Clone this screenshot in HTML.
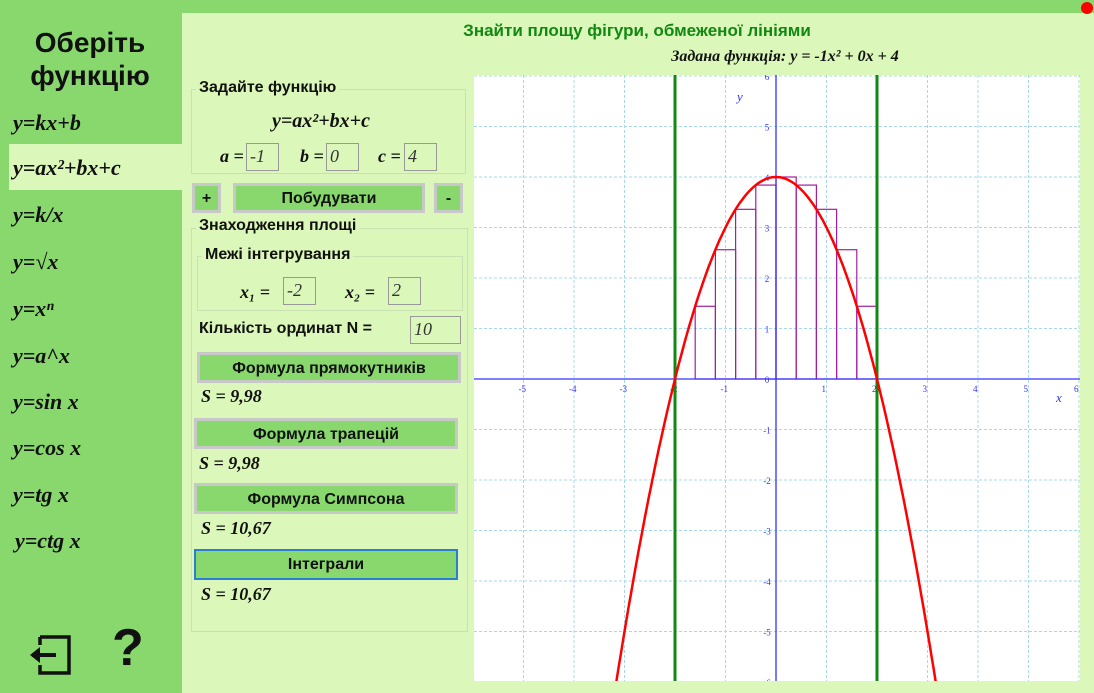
<!DOCTYPE html>
<html><head><meta charset="utf-8">
<style>
html{overflow:hidden;height:693px}
body{margin:0;width:1094px;height:693px;background:#88d86e;position:relative;overflow:hidden;font-family:"Liberation Sans",sans-serif}
.abs{position:absolute}
.fn{position:absolute;left:13px;font:italic bold 22px "Liberation Serif",serif;color:#111;line-height:26px}
.panel{position:absolute;left:182px;top:13px;width:912px;height:680px;background:#dbf7b9}
.box{position:absolute;border:1px solid #c9e0b0}
.lbl{position:absolute;font:bold 16px "Liberation Sans",sans-serif;color:#111;background:#dbf7b9;padding:0 3px}
.btn{position:absolute;background:#88d86e;border:3px solid #c8c8c8;box-sizing:border-box;font:bold 16px "Liberation Sans",sans-serif;text-align:center;color:#111;overflow:hidden}
.inp{position:absolute;background:#dbf7b9;border:1px solid #999;box-sizing:border-box;height:28px;font:italic 18px "Liberation Serif",serif;padding:2px 3px;color:#333;overflow:hidden}
.ser{position:absolute;font:italic bold 18px "Liberation Serif",serif;color:#111}
</style></head><body>
<div class="abs" style="left:0;top:26px;width:180px;text-align:center;font:bold 28px 'Liberation Sans',sans-serif;line-height:33px;color:#111">Оберіть<br>функцію</div>
<div class="abs" style="left:9px;top:144px;width:173px;height:46px;background:#dbf7b9"></div>
<div class="fn" style="top:110px">y=kx+b</div>
<div class="fn" style="top:155px">y=ax²+bx+c</div>
<div class="fn" style="top:202px">y=k/x</div>
<div class="fn" style="top:249px">y=√x</div>
<div class="fn" style="top:296px">y=xⁿ</div>
<div class="fn" style="top:343px">y=a^x</div>
<div class="fn" style="top:389px">y=sin x</div>
<div class="fn" style="top:435px">y=cos x</div>
<div class="fn" style="top:482px">y=tg x</div>
<div class="fn" style="top:528px;left:15px">y=ctg x</div>
<svg class="abs" style="left:28px;top:635px" width="44" height="40"><path d="M12 2H41V38H12V30M12 2V10" fill="none" stroke="#111" stroke-width="3.5"/><path d="M4 20H28" stroke="#111" stroke-width="4"/><path d="M2 20L12 12V28Z" fill="#111"/></svg>
<div class="abs" style="left:112px;top:620px;font:bold 52px 'Liberation Sans',sans-serif;line-height:56px;color:#111">?</div>

<div class="panel"></div>
<div class="abs" style="left:1081px;top:2px;width:12px;height:12px;border-radius:50%;background:#f00"></div>
<div class="abs" style="left:420px;top:21px;width:434px;text-align:center;font:bold 17px 'Liberation Sans',sans-serif;color:#118811">Знайти площу фігури, обмеженої лініями</div>
<div class="abs" style="left:600px;top:48px;width:370px;text-align:center;font:italic bold 16px 'Liberation Serif',serif;color:#111">Задана функція: y = -1x² + 0x + 4</div>

<div class="box" style="left:191px;top:89px;width:273px;height:83px"></div>
<div class="lbl" style="left:196px;top:79px">Задайте функцію</div>
<div class="ser" style="left:272px;top:110px;font-size:20px">y=ax²+bx+c</div>
<div class="ser" style="left:220px;top:146px">a =</div>
<div class="inp" style="left:246px;top:143px;width:33px">-1</div>
<div class="ser" style="left:300px;top:146px">b =</div>
<div class="inp" style="left:326px;top:143px;width:33px">0</div>
<div class="ser" style="left:378px;top:146px">c =</div>
<div class="inp" style="left:404px;top:143px;width:33px">4</div>

<div class="btn" style="left:192px;top:183px;width:29px;height:30px;line-height:26px">+</div>
<div class="btn" style="left:233px;top:183px;width:192px;height:30px;line-height:26px">Побудувати</div>
<div class="btn" style="left:434px;top:183px;width:29px;height:30px;line-height:26px">-</div>

<div class="box" style="left:191px;top:228px;width:275px;height:402px"></div>
<div class="lbl" style="left:196px;top:217px">Знаходження площі</div>
<div class="box" style="left:197px;top:256px;width:264px;height:53px"></div>
<div class="lbl" style="left:202px;top:246px">Межі інтегрування</div>
<div class="ser" style="left:240px;top:282px">x₁ =</div>
<div class="inp" style="left:283px;top:277px;width:33px">-2</div>
<div class="ser" style="left:345px;top:282px">x₂ =</div>
<div class="inp" style="left:388px;top:277px;width:33px">2</div>
<div class="abs" style="left:199px;top:320px;font:bold 16px 'Liberation Sans',sans-serif;color:#111">Кількість ординат N =</div>
<div class="inp" style="left:410px;top:316px;width:51px">10</div>

<div class="btn" style="left:197px;top:352px;width:264px;height:31px;line-height:27px">Формула прямокутників</div>
<div class="ser" style="left:201px;top:386px">S = 9,98</div>
<div class="btn" style="left:194px;top:418px;width:264px;height:31px;line-height:27px">Формула трапецій</div>
<div class="ser" style="left:199px;top:453px">S = 9,98</div>
<div class="btn" style="left:194px;top:483px;width:264px;height:31px;line-height:27px">Формула Симпсона</div>
<div class="ser" style="left:201px;top:518px">S = 10,67</div>
<div class="btn" style="left:194px;top:549px;width:264px;height:31px;line-height:27px;border:2px solid #2a7fd4">Інтеграли</div>
<div class="ser" style="left:201px;top:584px">S = 10,67</div>

<svg class="abs" id="chart" style="left:474px;top:75px" width="606" height="606"></svg>
<script>
const xTicks=[-5,-4,-3,-2,-1,1,2,3,4,5,6];
const yTicks=[-6,-5,-4,-3,-2,-1,1,2,3,4,5,6];
const coefA=-1, coefB=0, coefC=4;
const limitsX=[-2,2];
const rectLeft=[-1.6,-1.2,-0.8,-0.4,0,0.4,0.8,1.2,1.6];
const rectHeight=[1.44,2.56,3.36,3.84,4,3.84,3.36,2.56,1.44];
const rectWidth=0.4;
const svg=document.getElementById('chart');
const NS='http://www.w3.org/2000/svg';
const U=50.5, OX=302, OY=304;
const sx=v=>OX+v*U, sy=v=>OY-v*U;
function mk(t,a,p){const e=document.createElementNS(NS,t);for(const k in a)e.setAttribute(k,a[k]);(p||svg).appendChild(e);return e;}
mk('rect',{x:0,y:0,width:606,height:606,fill:'#fff'});
const grid=mk('g',{stroke:'#a8d8ec','stroke-width':1,'stroke-dasharray':'3,2'});


for(let v=-6;v<=6;v++){if(v===0)continue;mk('line',{x1:sx(v),y1:0,x2:sx(v),y2:606},grid);mk('line',{x1:0,y1:sy(v),x2:606,y2:sy(v)},grid);}
const rects=mk('g',{fill:'none',stroke:'#a020a0','stroke-width':1.2});


rectLeft.forEach((x,i)=>{const r=mk('rect',{x:sx(x),y:sy(rectHeight[i]),width:rectWidth*U,height:rectHeight[i]*U},rects);

});
const xa=mk('line',{x1:0,y1:OY,x2:606,y2:OY,stroke:'#3333ff','stroke-width':1.3});


const ya=mk('line',{x1:OX,y1:0,x2:OX,y2:606,stroke:'#3333ff','stroke-width':1.3});


const lf={fill:'#3333ff','font-size':9,'font-family':'Liberation Serif,serif'};
xTicks.forEach(v=>{const t=mk('text',Object.assign({x:sx(v)-5,y:OY+13},lf));t.textContent=v;

});
yTicks.forEach(v=>{const t=mk('text',Object.assign({x:OX-9,y:sy(v)+4,'text-anchor':'middle'},lf));t.textContent=v;

});
const z=mk('text',Object.assign({x:OX-9,y:OY+4,'text-anchor':'middle'},lf));z.textContent='0';


const xl=mk('text',{x:582,y:OY+23,fill:'#3333ff','font-size':13,'font-style':'italic','font-family':'Liberation Serif,serif'});xl.textContent='x';


const yl=mk('text',{x:263,y:26,fill:'#3333ff','font-size':13,'font-style':'italic','font-family':'Liberation Serif,serif'});yl.textContent='y';


limitsX.forEach(x=>{const l=mk('line',{x1:sx(x),y1:0,x2:sx(x),y2:606,stroke:'#118811','stroke-width':3});

});
let d='';for(let i=0;i<=300;i++){const x=-6+12*i/300;const y=coefA*x*x+coefB*x+coefC;d+=(i?'L':'M')+sx(x).toFixed(1)+' '+sy(y).toFixed(1);}
const cp=mk('clipPath',{id:'cl'});mk('rect',{x:0,y:0,width:606,height:606},cp);
const curve=mk('path',{d:d,fill:'none',stroke:'#ff0000','stroke-width':2.5,'clip-path':'url(#cl)'});


</script>
</body></html>
